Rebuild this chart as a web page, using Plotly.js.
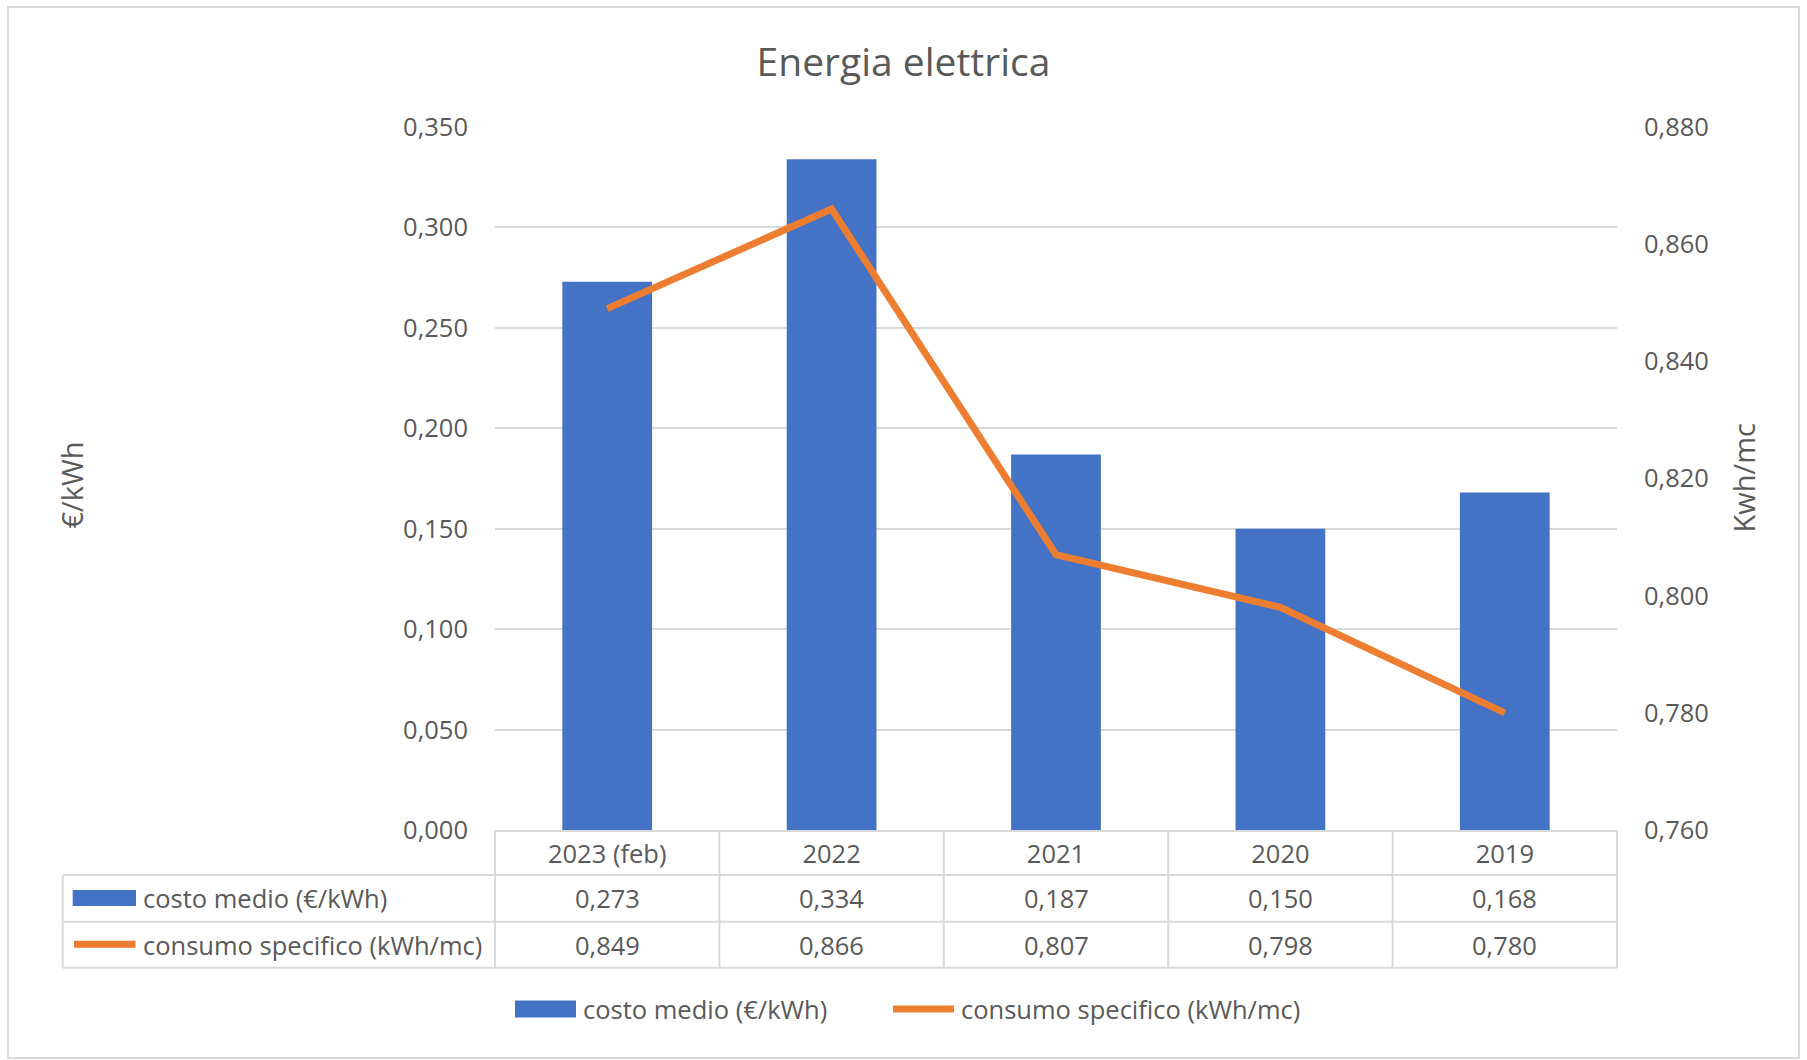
<!DOCTYPE html>
<html><head><meta charset="utf-8">
<script src="https://cdn.plot.ly/plotly-3.0.1.min.js"></script>
<style>html,body{margin:0;padding:0;background:#fff;overflow:hidden}</style>
</head><body><div id="chart" style="width:1807px;height:1060px"></div>
<script>
// ---- data ----
const categories = ['2023 (feb)', '2022', '2021', '2020', '2019'];
const costoMedio = [0.273, 0.334, 0.187, 0.150, 0.168];
const consumoSpecifico = [0.849, 0.866, 0.807, 0.798, 0.780];
const seriesNames = ['costo medio (€/kWh)', 'consumo specifico (kWh/mc)'];
const chartTitle = 'Energia elettrica';
const leftAxisTitle = '€/kWh';
const rightAxisTitle = 'Kwh/mc';

// ---- layout helpers (pixel -> paper) ----
const W = 1807, H = 1060;
const M = {l: 495, r: 190, t: 127, b: 230};
const PW = W - M.l - M.r, PH = H - M.t - M.b;
const px = X => (X - M.l) / PW;
const py = Y => (H - M.b - Y) / PH;
const TXT = '#595959', GRID = '#d9d9d9', FONT = 'Open Sans';
const BLUE = '#4472C4', ORANGE = '#ED7D31';
const fmt = v => v.toFixed(3).replace('.', ',');
const n = categories.length;
const catCenter = i => (i + 0.5) / n;   // category centre in paper units (x range is [-0.5, n-0.5])

const traces = [
  {type: 'bar', x: categories, y: costoMedio, name: seriesNames[0],
   marker: {color: BLUE}, yaxis: 'y', hoverinfo: 'skip'},
  {type: 'scatter', mode: 'lines', x: categories, y: consumoSpecifico, name: seriesNames[1],
   line: {color: ORANGE, width: 7}, yaxis: 'y2', hoverinfo: 'skip', cliponaxis: false}
];

const shapes = [];
const annotations = [];
const lineS = (x0, y0, x1, y1) => ({type: 'line', xref: 'paper', yref: 'paper',
  x0, y0, x1, y1, line: {color: GRID, width: 2}, layer: 'below'});

// outer chart border
shapes.push({type: 'rect', xref: 'paper', yref: 'paper', x0: px(8), x1: px(1799), y0: py(7), y1: py(1058),
  line: {color: GRID, width: 2}, fillcolor: 'rgba(0,0,0,0)', layer: 'below'});

// data table grid
const rowTop = 830, row1 = 875, row2 = 921.7, rowBot = 967.7, tableLeft = 62.7;
[row1, row2, rowBot].forEach(Y => shapes.push(lineS(px(tableLeft), py(Y), 1, py(Y))));
for (let i = 0; i <= n; i++) shapes.push(lineS(i / n, py(rowTop), i / n, py(rowBot)));
shapes.push(lineS(px(tableLeft), py(row1), px(tableLeft), py(rowBot)));

const r1c = (row1 + row2) / 2, r2c = (row2 + rowBot) / 2;
const tf = {family: FONT, size: 25.5, color: TXT};
// table values
for (let i = 0; i < n; i++) {
  annotations.push({xref: 'paper', yref: 'paper', x: catCenter(i), y: py(r1c), text: fmt(costoMedio[i]),
    showarrow: false, font: tf, xanchor: 'center', yanchor: 'middle'});
  annotations.push({xref: 'paper', yref: 'paper', x: catCenter(i), y: py(r2c), text: fmt(consumoSpecifico[i]),
    showarrow: false, font: tf, xanchor: 'center', yanchor: 'middle'});
}
// table row keys
shapes.push({type: 'rect', xref: 'paper', yref: 'paper', x0: px(72.7), x1: px(136), y0: py(906), y1: py(890),
  fillcolor: BLUE, line: {width: 0}});
shapes.push({type: 'line', xref: 'paper', yref: 'paper', x0: px(74), x1: px(135.5), y0: py(944.3), y1: py(944.3),
  line: {color: ORANGE, width: 7}});
annotations.push({xref: 'paper', yref: 'paper', x: px(141), y: py(r1c), text: seriesNames[0],
  showarrow: false, font: tf, xanchor: 'left', yanchor: 'middle'});
annotations.push({xref: 'paper', yref: 'paper', x: px(141), y: py(r2c), text: seriesNames[1],
  showarrow: false, font: tf, xanchor: 'left', yanchor: 'middle'});

// bottom legend
const legY = 1009;
shapes.push({type: 'rect', xref: 'paper', yref: 'paper', x0: px(515), x1: px(576), y0: py(legY + 8.5), y1: py(legY - 8.5),
  fillcolor: BLUE, line: {width: 0}});
shapes.push({type: 'line', xref: 'paper', yref: 'paper', x0: px(893), x1: px(954), y0: py(legY), y1: py(legY),
  line: {color: ORANGE, width: 7}});
annotations.push({xref: 'paper', yref: 'paper', x: px(581), y: py(legY), text: seriesNames[0],
  showarrow: false, font: tf, xanchor: 'left', yanchor: 'middle'});
annotations.push({xref: 'paper', yref: 'paper', x: px(959), y: py(legY), text: seriesNames[1],
  showarrow: false, font: tf, xanchor: 'left', yanchor: 'middle'});

// axis titles
annotations.push({xref: 'paper', yref: 'paper', x: px(70.5), y: py(485), text: leftAxisTitle, textangle: -90,
  showarrow: false, font: {family: FONT, size: 29, color: TXT}, xanchor: 'center', yanchor: 'middle'});
annotations.push({xref: 'paper', yref: 'paper', x: px(1742.5), y: py(478), text: rightAxisTitle, textangle: -90,
  showarrow: false, font: {family: FONT, size: 29, color: TXT}, xanchor: 'center', yanchor: 'middle'});

const layout = {
  width: W, height: H, margin: M, separators: ',.',
  paper_bgcolor: '#fff', plot_bgcolor: '#fff', showlegend: false,
  font: {family: FONT, color: TXT},
  title: {text: chartTitle, x: 0.5, xref: 'container', xanchor: 'center',
          y: 1 - 62 / H, yref: 'container', yanchor: 'middle',
          font: {family: FONT, size: 39, color: TXT}},
  bargap: 0.6,
  xaxis: {type: 'category', range: [-0.5, n - 0.5], showline: true, linecolor: GRID, linewidth: 2,
          ticks: '', showgrid: false, zeroline: false, tickfont: tf, ticklabelstandoff: 0, fixedrange: true},
  yaxis: {range: [0, 0.35], dtick: 0.05, tick0: 0, tickformat: '.3f', showgrid: true, gridcolor: GRID,
          gridwidth: 2, zeroline: false, showline: false, ticks: '', tickfont: tf, ticklabelstandoff: 26},
  yaxis2: {range: [0.76, 0.88], dtick: 0.02, tick0: 0.76, tickformat: '.3f', overlaying: 'y', side: 'right',
           showgrid: false, zeroline: false, showline: false, ticks: '', tickfont: tf, ticklabelstandoff: 26},
  shapes, annotations
};
Plotly.newPlot('chart', traces, layout, {displayModeBar: false, staticPlot: true});
</script></body></html>
